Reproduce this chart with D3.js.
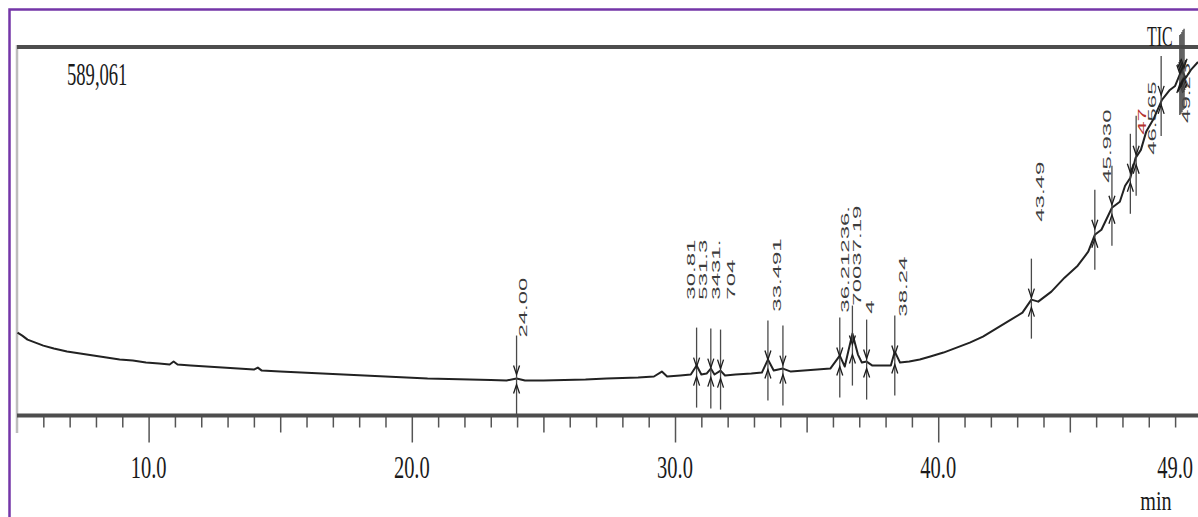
<!DOCTYPE html>
<meta charset="utf-8">
<style>
    body { margin: 0; background: #fff; }
    svg { display: block; }
    .serif { font-family: "Liberation Serif", "Times New Roman", serif; fill: #1a1a1a; }
    .plabel { font-family: "Liberation Sans", Arial, sans-serif; font-size: 12px; fill: #3c3c3c; }
    .trace { fill: none; stroke: #222; stroke-width: 2px; stroke-linejoin: round; }
    .marker line { stroke: #4a4a4a; stroke-width: 1.3px; }
    .marker path { fill: none; stroke: #1c1c1c; stroke-width: 1.3px; }
    .ticks line { stroke: #555; stroke-width: 1.5px; }
    .ticks path { display: none; }
</style>

<svg width="1198" height="517"></svg>
<script src="https://d3js.org/d3.v7.min.js"></script>
<script>

    // TIC trace, retention time (min) and counts
    var traceTime = [5.02, 5.2, 5.4, 5.7, 6.0, 6.4, 6.9, 7.4, 7.9, 8.4, 8.9, 9.4, 9.9, 10.4, 10.8, 10.95, 11.1,
        11.6, 12.2, 12.8, 13.4, 14.0, 14.15, 14.3, 15.0, 15.8, 16.6, 17.4, 18.2, 19.0, 19.8, 20.6, 21.4,
        22.2, 23.0, 23.6, 23.98, 24.3, 25.0, 25.8, 26.6, 27.4, 28.0, 28.6, 29.2, 29.5, 29.7, 30.2, 30.6,
        30.82, 31.0, 31.2, 31.36, 31.5, 31.73, 31.9, 32.3, 32.9, 33.3, 33.53, 33.75, 34.1, 34.4, 34.9,
        35.4, 35.9, 36.26, 36.45, 36.74, 36.95, 37.1, 37.28, 37.5, 37.9, 38.2, 38.35, 38.55, 38.9, 39.3,
        39.7, 40.2, 40.7, 41.2, 41.7, 42.2, 42.7, 43.2, 43.54, 43.8, 44.3, 44.8, 45.3, 45.7, 45.95, 46.2,
        46.6, 46.9, 47.1, 47.3, 47.5, 47.7, 47.9, 48.2, 48.5, 48.8, 49.0, 49.25, 49.4, 49.6, 49.87];
    var traceCounts = [132500, 127700, 121300, 116500, 111700, 107000, 102200, 99000, 95800, 92600, 89400, 87800,
        84600, 83000, 81400, 86200, 81400, 79800, 78200, 76600, 75000, 73400, 76600, 71800, 70200, 68600,
        67000, 65500, 63900, 62300, 60700, 59100, 58300, 57500, 56700, 55900, 59100, 55900, 55900, 56700,
        57500, 59100, 59900, 60700, 62300, 70200, 62300, 63900, 65500, 79800, 65500, 67000, 75000, 65500,
        71800, 63900, 65500, 67000, 68600, 89400, 71800, 75000, 70200, 71800, 73400, 75000, 95800, 78200,
        130900, 97400, 84600, 86200, 79800, 79800, 79800, 102200, 84600, 86200, 89400, 94200, 100600,
        108600, 116500, 126100, 138900, 151700, 164400, 185200, 182000, 198000, 220300, 239500, 261800,
        288900, 296900, 332100, 341600, 367200, 379900, 411900, 424600, 453400, 475700, 504500, 520400,
        526800, 552400, 539600, 552400, 565100];

    // peak markers
    var peakTimes = [23.98, 30.82, 31.36, 31.73, 33.53, 34.10, 36.26, 36.74, 37.28, 38.35, 43.54,
        45.95, 46.60, 47.30, 47.52, 48.47, 49.18, 49.22, 49.26, 49.30, 49.34];
    var peakCounts = [57500, 70200, 68600, 67000, 81400, 73400, 86200, 105400, 83000, 89400, 180400,
        290500, 328900, 380000, 408700, 504500, 538000, 539600, 542800, 546000, 548000];

    // retention time labels as printed (overlapping ones wrap into columns)
    var labelText = ["24.00", "30.81", "531.3", "3431.", "704", "33.491", "36.21236.", "70037.19", "4",
        "38.24", "43.49", "45.930", "46.565", "47", "49.23"];
    var labelTime = [24.23, 30.60, 31.08, 31.56, 32.12, 33.87, 36.46, 36.91, 37.41, 38.67, 43.87,
        46.42, 48.13, 47.75, 49.42];
    var labelCounts = [124500, 185200, 185200, 185200, 185200, 166000, 164400, 175600, 162800, 158000,
        309700, 372000, 416700, 448600, 467700];

    var tickLabels = [10, 20, 30, 40, 49];
    var maxCount = 589061;

    var svg = d3.select("svg");
    var plotLeft = 17, plotRight = 1198, plotTop = 47, axisY = 415.5;

    var x = d3.scaleLinear().domain([5, 49.87]).range([plotLeft, plotRight]);
    var y = d3.scaleLinear().domain([0, maxCount]).range([axisY, plotTop]);

    // outer purple border
    svg.append("path")
        .attr("d", "M9.5,517V9.5H1198")
        .attr("fill", "none")
        .attr("stroke", "#7436a8")
        .attr("stroke-width", 2.5);

    // frame
    svg.append("line")
        .attr("x1", plotLeft).attr("x2", plotLeft).attr("y1", plotTop - 2).attr("y2", 433)
        .attr("stroke", "#bdbdbd").attr("stroke-width", 2.5);
    svg.append("line")
        .attr("x1", plotLeft).attr("x2", plotRight).attr("y1", plotTop).attr("y2", plotTop)
        .attr("stroke", "#4d4d4d").attr("stroke-width", 4);

    // ticks: minor every min, half at 5s, major at 10s
    var minor = d3.range(6, 50).filter(function (t) { return t % 5 !== 0; });
    var half = [15, 25, 35, 45];
    var major = [10, 20, 30, 40];
    [[minor, 12], [half, 17], [major, 27]].forEach(function (d) {
        svg.append("g")
            .attr("class", "ticks")
            .attr("transform", "translate(0," + axisY + ")")
            .call(d3.axisBottom(x).tickValues(d[0]).tickSize(d[1]).tickFormat(""));
    });

    svg.append("line")
        .attr("x1", plotLeft).attr("x2", plotRight).attr("y1", axisY).attr("y2", axisY)
        .attr("stroke", "#4d4d4d").attr("stroke-width", 4);

    // tick labels
    svg.append("g")
        .selectAll("text")
        .data(tickLabels)
        .enter().append("text")
        .attr("class", "serif")
        .attr("text-anchor", "middle")
        .attr("font-size", 32)
        .attr("transform", function (d) { return "translate(" + x(d) + ",478) scale(0.64,1)"; })
        .text(function (d) { return d3.format(".1f")(d); });

    svg.append("text")
        .attr("class", "serif")
        .attr("text-anchor", "middle")
        .attr("font-size", 28)
        .attr("transform", "translate(1156,510) scale(0.72,1)")
        .text("min");

    svg.append("text")
        .attr("class", "serif")
        .attr("font-size", 31)
        .attr("transform", "translate(67,85) scale(0.6,1)")
        .text(d3.format(",")(maxCount));

    svg.append("text")
        .attr("class", "serif")
        .attr("font-size", 29)
        .attr("transform", "translate(1147,46) scale(0.55,1)")
        .text("TIC");

    // peak labels
    svg.append("g")
        .selectAll("text")
        .data(labelText)
        .enter().append("text")
        .attr("class", "plabel")
        .attr("dy", "0.35em")
        .style("fill", function (d) { return d === "47" ? "#b5322e" : null; })
        .attr("transform", function (d, i) {
            return "translate(" + x(labelTime[i]) + "," + y(labelCounts[i]) + ") rotate(-90) scale(2,0.95)";
        })
        .text(function (d) { return d; });

    // trace
    var line = d3.line()
        .x(function (d, i) { return x(traceTime[i]); })
        .y(function (d) { return y(d); });

    svg.append("path")
        .attr("class", "trace")
        .attr("d", line(traceCounts));

    // peak markers
    var marker = svg.append("g")
        .selectAll("g")
        .data(peakTimes)
        .enter().append("g")
        .attr("class", "marker")
        .attr("transform", function (d, i) { return "translate(" + x(d) + "," + y(peakCounts[i]) + ")"; });

    marker.append("line").attr("y1", -44).attr("y2", 36);
    marker.append("path").attr("d", "M-3,-14L0,-5L3,-14");
    marker.append("path").attr("d", "M-3,14L0,5L3,14");

</script>
